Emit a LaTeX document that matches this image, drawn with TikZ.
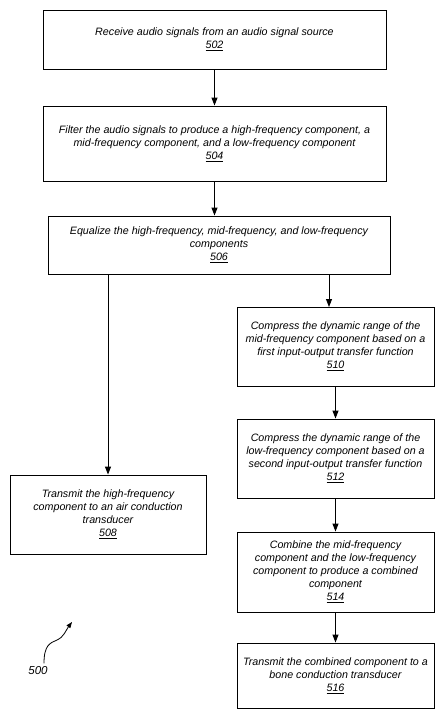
\documentclass[tikz,border=0pt]{standalone}
\usepackage{fontspec}
\setmainfont{Liberation Sans}
\usetikzlibrary{arrows.meta,shadows}

\tikzset{
  stepbox/.style={draw, line width=0.9pt, fill=white, align=center,
    inner sep=2pt, font=\itshape\fontsize{10.7}{13}\selectfont,
    drop shadow={shadow xshift=0.9pt, shadow yshift=-0.9pt, fill=black, opacity=1}},
  flow/.style={line width=0.9pt, -{Triangle[length=8pt,width=6pt]}}
}

\begin{document}
\begin{tikzpicture}[x=1pt, y=-1pt]
		\useasboundingbox (0, 0) rectangle (445, 717);

		% Main chain
		\node[stepbox, minimum width=343pt, minimum height=59pt] (s502) at (214.5, 39.5)
			{Receive audio signals from an audio signal source\\\underline{502}};
		\node[stepbox, minimum width=343pt, minimum height=75pt] (s504) at (214.5, 143.5)
			{Filter the audio signals to produce a high-frequency component, a\\mid-frequency component, and a low-frequency component\\\underline{504}};
		\node[stepbox, minimum width=342pt, minimum height=58pt] (s506) at (219, 245)
			{Equalize the high-frequency, mid-frequency, and low-frequency\\components\\\underline{506}};

		% High-frequency branch
		\node[stepbox, minimum width=196pt, minimum height=79pt] (s508) at (108, 514.5)
			{Transmit the high-frequency\\component to an air conduction\\transducer\\\underline{508}};

		% Mid/low-frequency branch
		\node[stepbox, minimum width=197pt, minimum height=79pt] (s510) at (335.5, 346.5)
			{Compress the dynamic range of the\\mid-frequency component based on a\\first input-output transfer function\\\underline{510}};
		\node[stepbox, minimum width=197pt, minimum height=79pt] (s512) at (335.5, 458.5)
			{Compress the dynamic range of the\\low-frequency component based on a\\second input-output transfer function\\\underline{512}};
		\node[stepbox, minimum width=197pt, minimum height=80pt] (s514) at (335.5, 572)
			{Combine the mid-frequency\\component and the low-frequency\\component to produce a combined\\component\\\underline{514}};
		\node[stepbox, minimum width=197pt, minimum height=65pt] (s516) at (335.5, 675.5)
			{Transmit the combined component to a\\bone conduction transducer\\\underline{516}};

		% Connectors
		\draw[flow] (s502) -- (s504);
		\draw[flow] (s504.south) -- (s504.south |- s506.north);
		\draw[flow] (s506.south -| s508) -- (s508.north);
		\draw[flow] (s506.south -| 329, 0) -- (329, 307);
		\draw[flow] (s510) -- (s512);
		\draw[flow] (s512) -- (s514);
		\draw[flow] (s514) -- (s516);

		% Figure label
		\node[font=\itshape\fontsize{11.5}{13}\selectfont] (f500) at (38, 671) {500};
		\coordinate (tip) at (72, 622);
		\draw[line width=0.8pt, -{Triangle[length=6pt,width=4.5pt]}]
			(f500.north) ++(6, 0) .. controls (44, 645) and (50, 643) .. (57, 640)
			.. controls (64, 637) and (66, 630) .. (tip);
	\end{tikzpicture}
\end{document}
